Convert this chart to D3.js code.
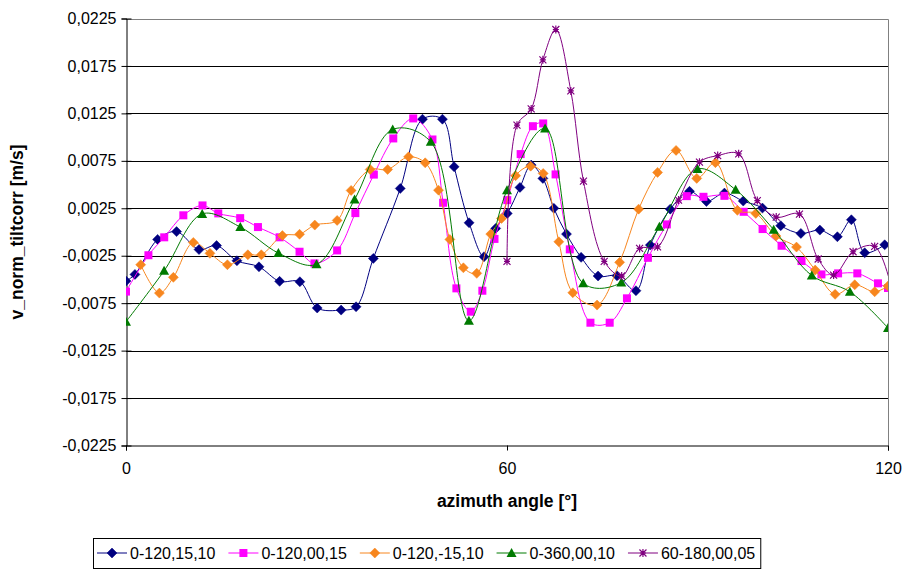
<!DOCTYPE html>
<html>
<head>
<meta charset="utf-8">
<script src="https://cdn.jsdelivr.net/npm/d3@7"></script>
<style>
  html, body { margin: 0; padding: 0; background: #ffffff; }
  svg { display: block; font-family: "Liberation Sans", Arial, sans-serif; }
</style>
</head>
<body>
<svg id="chart" width="912" height="574"></svg>
<script>
// Azimuth angles [°] and tilt-corrected normal velocities [m/s], one pair of arrays per run
const seriesNames = ["0-120,15,10", "0-120,00,15", "0-120,-15,10", "0-360,00,10", "60-180,00,05"];

const angle_0_120_15_10 = [0, 1.41, 4.98, 7.96, 11.5, 14.26, 17.47, 20.94, 24.19, 27.38, 30.11, 33.88, 36.23, 38.95, 43.19, 46.69, 49.83, 51.67, 54.03, 56.38, 58.22, 60.04, 62.04, 63.81, 65.65, 67.38, 69.37, 71.67, 74.34, 77.32, 80.31, 82.57, 85.71, 88.74, 91.41, 94.24, 97.2, 100.23, 103.11, 106.28, 109.27, 112.03, 114.23, 116.33, 119.48];
const v_0_120_15_10 = [-0.00517, -0.00447, -0.00078, 0.00004, -0.00185, -0.00143, -0.00303, -0.00367, -0.0052, -0.00524, -0.00801, -0.00823, -0.00788, -0.00278, 0.00459, 0.01189, 0.01189, 0.00687, 0.00097, -0.00261, 0.00038, 0.00196, 0.0047, 0.00705, 0.00565, 0.00249, -0.00022, -0.00267, -0.00464, -0.00461, -0.00619, -0.00138, 0.00241, 0.00429, 0.00322, 0.0041, 0.00326, 0.00252, 0.00067, -0.00015, 0.0002, -0.0005, 0.00129, -0.00219, -0.00135];

const angle_0_120_00_15 = [0, 3.53, 6.02, 9.03, 12.05, 14.53, 17.98, 20.78, 24.19, 27.33, 29.68, 33.25, 36.12, 39.03, 42.09, 45.23, 48.26, 49.94, 52.03, 54.3, 56.12, 58.03, 60.04, 62.15, 64.08, 65.7, 67.65, 69.89, 73.14, 76.17, 78.89, 82.19, 85.17, 88.31, 90.94, 94.24, 97.27, 100.25, 103.24, 106.38, 109.52, 112.14, 115.17, 118.42, 120];
const v_0_120_00_15 = [-0.00628, -0.00245, -0.00056, 0.00176, 0.0028, 0.00196, 0.00146, 0.00052, -0.00056, -0.00208, -0.00331, -0.00194, 0.00199, 0.00605, 0.00986, 0.01197, 0.00975, 0.00308, -0.00594, -0.0084, -0.00619, -0.00073, 0.00336, 0.00821, 0.01115, 0.01144, 0.00607, -0.00183, -0.00956, -0.00956, -0.00699, -0.00272, 0.0008, 0.00378, 0.00371, 0.00381, 0.00213, 0.00031, -0.00145, -0.00306, -0.00447, -0.00436, -0.00436, -0.00541, -0.0059];

const angle_0_120_m15_10 = [2.31, 5.26, 7.46, 10.6, 13.22, 15.97, 19.19, 21.31, 24.63, 27.33, 29.73, 33.25, 35.45, 38.45, 41.2, 44.5, 47.12, 49.21, 51.0, 53.13, 55.24, 57.44, 59.13, 61.36, 63.72, 65.7, 68.16, 70.36, 74.18, 77.74, 80.73, 83.71, 86.62, 89.88, 92.82, 96.28, 99.18, 102.36, 105.59, 108.53, 111.67, 114.76, 117.9, 120];
const v_0_120_m15_10 = [-0.00345, -0.00644, -0.00478, -0.0011, -0.00225, -0.00345, -0.0024, -0.0024, -0.00038, -0.00024, 0.00073, 0.00122, 0.00438, 0.00659, 0.00659, 0.00792, 0.00729, 0.00441, -0.00078, -0.00377, -0.00436, -0.00022, 0.00143, 0.00594, 0.00694, 0.00617, -0.00103, -0.0064, -0.0077, -0.0032, 0.00241, 0.00628, 0.0086, 0.00565, 0.00731, 0.00228, 0.00196, -0.00043, -0.00159, -0.00401, -0.00657, -0.00556, -0.0063, -0.0057];

const angle_0_360_00_10 = [0, 6, 12, 18, 24, 30, 36, 42, 48, 54, 60, 66, 72, 78, 84, 90, 96, 102, 108, 114, 120];
const v_0_360_00_10 = [-0.00946, -0.00409, 0.00191, 0.00052, -0.00222, -0.00341, 0.00343, 0.01081, 0.0095, -0.00935, 0.00441, 0.01091, -0.00541, -0.00533, 0.00055, 0.00665, 0.00445, 0.00025, -0.00459, -0.0063, -0.01012];

const angle_60_180_00_05 = [60.0, 61.57, 63.81, 65.65, 67.69, 70.05, 72.04, 75.31, 78.06, 80.88, 83.71, 87.01, 90.31, 93.18, 96.48, 99.42, 102.4, 106.06, 109.0, 111.43, 114.5, 117.9, 121.1];
const v_60_180_00_05 = [-0.00309, 0.01126, 0.01297, 0.01814, 0.02134, 0.01487, 0.00536, -0.00309, -0.00464, -0.00173, -0.00156, 0.00336, 0.00736, 0.00805, 0.00824, 0.00331, 0.00157, 0.00189, -0.00285, -0.00454, -0.00208, -0.00152, -0.00749];

const xTicks = [0, 60, 120];
const yTicks = [-0.0225, -0.0175, -0.0125, -0.0075, -0.0025, 0.0025, 0.0075, 0.0125, 0.0175, 0.0225];

const seriesAngles = [angle_0_120_15_10, angle_0_120_00_15, angle_0_120_m15_10, angle_0_360_00_10, angle_60_180_00_05];
const seriesValues = [v_0_120_15_10, v_0_120_00_15, v_0_120_m15_10, v_0_360_00_10, v_60_180_00_05];
const seriesColors = ["#000080", "#FF00FF", "#F7861E", "#007A00", "#800080"];
const seriesMarkers = ["diamond", "square", "diamond", "triangle", "asterisk"];

const series = seriesNames.map((name, i) => ({
  name,
  color: seriesColors[i],
  marker: seriesMarkers[i],
  points: seriesAngles[i].map((a, j) => ({ x: a, y: seriesValues[i][j] }))
}));

const FONT = "'Liberation Sans', Arial, sans-serif";
const FS = 16;
const FS_TITLE = 17.5;

const svg = d3.select("#chart");
const plot = { left: 126, right: 888, top: 18.5, bottom: 445.5 };

const x = d3.scaleLinear().domain([0, 120]).range([plot.left, plot.right]);
const y = d3.scaleLinear().domain([-0.0225, 0.0225]).range([plot.bottom, plot.top]);
// Decimal comma and a plain hyphen for negatives
const fmt = v => d3.format(".4f")(v).replace(".", ",").replace("\u2212", "-");

// Horizontal gridlines
svg.append("g")
  .selectAll("line")
  .data(yTicks.filter(t => t > -0.0225 && t < 0.0225))
  .join("line")
  .attr("x1", plot.left).attr("x2", plot.right)
  .attr("y1", d => Math.round(y(d)) + 0.5).attr("y2", d => Math.round(y(d)) + 0.5)
  .attr("stroke", "#000").attr("stroke-width", 1);

// Plot-area frame (top and right)
svg.append("path")
  .attr("d", `M${plot.left},${Math.round(plot.top) + 0.5}H${Math.round(plot.right) + 0.5}V${plot.bottom}`)
  .attr("fill", "none").attr("stroke", "#808080").attr("stroke-width", 1);

// Y axis with crossing tick marks
const yAxis = d3.axisLeft(y).tickValues(yTicks).tickFormat(fmt).tickSize(5).tickPadding(5);
const gy = svg.append("g").attr("transform", `translate(${plot.left + 0.5},0)`).call(yAxis);
gy.select(".domain").attr("stroke", "#000");
gy.selectAll(".tick line").attr("x1", 5).attr("x2", -5).attr("stroke", "#000");
gy.selectAll(".tick text").attr("font-size", FS).attr("fill", "#000")
  .attr("font-family", FONT).attr("x", -10);

// X axis
const xAxis = d3.axisBottom(x).tickValues(xTicks).tickFormat(d3.format("d")).tickSize(5).tickPadding(12);
const gx = svg.append("g").attr("transform", `translate(0,${plot.bottom})`).call(xAxis);
gx.select(".domain").attr("stroke", "#000");
gx.selectAll(".tick line").attr("stroke", "#000");
gx.selectAll(".tick text").attr("font-size", FS).attr("fill", "#000")
  .attr("font-family", FONT);

// Axis titles
svg.append("text")
  .attr("x", (plot.left + plot.right) / 2).attr("y", 507)
  .attr("text-anchor", "middle").attr("font-size", FS_TITLE).attr("font-weight", "bold")
  .text("azimuth angle [°]");
svg.append("text")
  .attr("transform", `translate(23,${(plot.top + plot.bottom) / 2}) rotate(-90)`)
  .attr("text-anchor", "middle").attr("font-size", FS_TITLE).attr("font-weight", "bold")
  .text("v_norm_tiltcorr [m/s]");

// Clip region for the data
svg.append("clipPath").attr("id", "plotClip")
  .append("rect").attr("x", plot.left).attr("y", plot.top)
  .attr("width", plot.right - plot.left).attr("height", plot.bottom - plot.top);

const line = d3.line()
  .x(d => x(d.x)).y(d => y(d.y))
  .curve(d3.curveCatmullRom.alpha(0.5));

function drawMarker(g, type, color) {
  if (type === "diamond") {
    g.append("path").attr("d", "M0,-5L5,0L0,5L-5,0Z").attr("fill", color).attr("stroke", color).attr("stroke-width", 0.5);
  } else if (type === "square") {
    g.append("rect").attr("x", -4).attr("y", -4).attr("width", 8).attr("height", 8).attr("fill", color);
  } else if (type === "triangle") {
    g.append("path").attr("d", "M0,-5L5,4L-5,4Z").attr("fill", color);
  } else if (type === "asterisk") {
    g.append("path").attr("d", "M-3.5,-3.5L3.5,3.5M-3.5,3.5L3.5,-3.5M0,-4V4M-3,0H3")
      .attr("stroke", color).attr("stroke-width", 1.2).attr("fill", "none");
  }
}

const dataLayer = svg.append("g").attr("clip-path", "url(#plotClip)");
series.forEach(s => {
  const g = dataLayer.append("g");
  g.append("path").datum(s.points)
    .attr("d", line).attr("fill", "none").attr("stroke", s.color).attr("stroke-width", 1);
  g.selectAll("g.m").data(s.points.filter(p => p.x <= 120))
    .join("g").attr("class", "m")
    .attr("transform", p => `translate(${x(p.x)},${y(p.y)})`)
    .each(function () { drawMarker(d3.select(this), s.marker, s.color); });
});

// Legend
const legend = svg.append("g");
const legendTop = 538, legendH = 30;
let lx = 97;
const itemsG = legend.append("g");
series.forEach(s => {
  const it = itemsG.append("g").attr("transform", `translate(${lx},${legendTop + legendH / 2})`);
  it.append("line").attr("x1", 0).attr("x2", 30).attr("stroke", s.color).attr("stroke-width", 1);
  const m = it.append("g").attr("transform", "translate(15,0)");
  drawMarker(m, s.marker, s.color);
  const t = it.append("text").attr("x", 33).attr("y", 6).attr("font-size", FS).text(s.name);
  lx += 33 + t.node().getComputedTextLength() + 13;
});
legend.insert("rect", ":first-child")
  .attr("x", 93.5).attr("y", legendTop + 0.5)
  .attr("width", lx - 93 - 8).attr("height", legendH)
  .attr("fill", "#fff").attr("stroke", "#000").attr("stroke-width", 1);
</script>
</body>
</html>
